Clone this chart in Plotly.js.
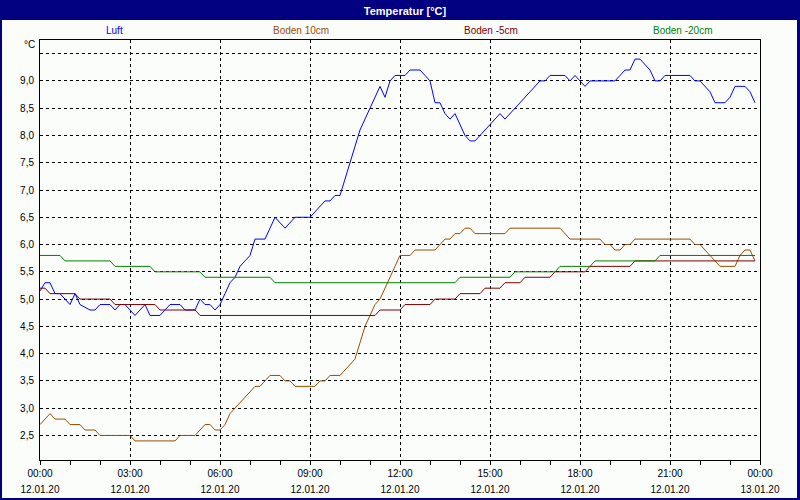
<!DOCTYPE html>
<html>
<head>
<meta charset="utf-8">
<script src="https://cdn.plot.ly/plotly-3.0.1.min.js"></script>
<style>
html,body{margin:0;padding:0;background:#fbfdfb;}
#chart{width:800px;height:500px;}
</style>
</head>
<body>
<div id="chart"></div>
<script>
// ---- Data ----
const chartTitle = 'Temperatur [°C]';
const seriesNames = ['Luft', 'Boden 10cm', 'Boden -5cm', 'Boden -20cm'];
const dateDay = '2020-01-12';

const luftTime = ['00:00','00:10','00:20','00:30','00:40','00:50','01:00','01:10','01:20','01:40','01:50','02:00','02:20','02:30','02:40','02:50','03:10','03:30','03:40','04:00','04:20','04:40','04:50','05:10','05:20','05:30','05:40','05:50','06:00','06:10','06:20','06:30','06:40','06:50','07:00','07:10','07:30','07:50','08:10','08:30','09:00','09:30','09:40','09:50','10:00','10:10','10:20','10:30','10:40','10:50','11:00','11:10','11:20','11:30','11:40','11:50','12:10','12:20','12:40','12:50','13:00','13:10','13:20','13:30','13:40','13:50','14:00','14:10','14:20','14:30','15:00','15:20','15:30','15:50','16:10','16:40','16:50','17:00','17:30','17:40','17:50','18:00','18:10','18:20','19:10','19:20','19:30','19:40','19:50','20:00','20:10','20:20','20:30','20:40','20:50','21:40','21:50','22:00','22:20','22:30','22:50','23:00','23:10','23:30','23:40','23:50'];
const luftVal  = [5.15,5.3,5.3,5.1,5.1,5.0,4.9,5.1,4.9,4.8,4.8,4.9,4.9,4.8,4.9,4.9,4.7,4.9,4.7,4.7,4.9,4.9,4.8,4.8,5.0,4.9,4.9,4.8,4.9,5.1,5.3,5.4,5.6,5.7,5.8,6.1,6.1,6.5,6.3,6.5,6.5,6.8,6.8,6.9,6.9,7.2,7.5,7.8,8.1,8.3,8.5,8.7,8.9,8.7,9.0,9.1,9.1,9.2,9.2,9.1,9.0,8.6,8.6,8.4,8.3,8.4,8.2,8.0,7.9,7.9,8.2,8.4,8.3,8.5,8.7,9.0,9.0,9.1,9.1,9.0,9.1,9.0,8.9,9.0,9.0,9.1,9.2,9.2,9.4,9.4,9.3,9.2,9.0,9.0,9.1,9.1,9.0,9.0,8.8,8.6,8.6,8.7,8.9,8.9,8.8,8.6];

const b10Time = ['00:00','00:20','00:30','00:50','01:00','01:20','01:30','01:50','02:00','03:00','03:10','04:30','04:40','05:10','05:30','05:40','05:50','06:00','06:10','06:20','06:30','06:40','06:50','07:10','07:20','07:40','08:00','08:10','08:20','08:30','09:10','09:20','09:30','09:40','10:00','10:30','10:40','10:50','11:00','11:10','11:20','11:40','12:00','12:20','12:30','13:10','13:20','13:30','13:40','13:50','14:00','14:10','14:20','14:30','15:30','15:40','17:20','17:40','18:40','18:50','19:00','19:10','19:20','19:30','19:40','19:50','21:40','21:50','22:00','22:10','22:40','23:10','23:20','23:30','23:40','23:50'];
const b10Val  = [2.7,2.9,2.8,2.8,2.7,2.7,2.6,2.6,2.5,2.5,2.4,2.4,2.5,2.5,2.7,2.7,2.6,2.6,2.7,2.9,3.0,3.1,3.2,3.4,3.4,3.6,3.6,3.5,3.5,3.4,3.4,3.5,3.5,3.6,3.6,3.9,4.2,4.5,4.7,4.9,5.0,5.4,5.8,5.8,5.9,5.9,6.0,6.1,6.1,6.2,6.2,6.3,6.3,6.2,6.2,6.3,6.3,6.1,6.1,6.0,6.0,5.9,5.9,6.0,6.0,6.1,6.1,6.0,6.0,5.9,5.6,5.6,5.8,5.9,5.9,5.7];

const b5Time = ['00:00','00:10','00:20','01:10','01:20','02:20','02:30','03:50','04:00','05:10','05:20','11:10','11:20','12:00','12:10','13:00','13:10','13:50','14:00','14:40','14:50','15:20','15:30','16:00','16:10','17:00','17:10','18:10','18:20','19:40','19:50','23:50'];
const b5Val  = [5.2,5.2,5.1,5.1,5.0,5.0,4.9,4.9,4.8,4.8,4.7,4.7,4.8,4.8,4.9,4.9,5.0,5.0,5.1,5.1,5.2,5.2,5.3,5.3,5.4,5.4,5.5,5.5,5.6,5.6,5.7,5.7];

const b20Time = ['00:00','00:40','00:50','02:20','02:30','03:40','03:50','05:20','05:30','07:40','07:50','13:50','14:00','15:40','15:50','17:10','17:20','18:20','18:30','20:30','20:40','23:50'];
const b20Val  = [5.8,5.8,5.7,5.7,5.6,5.6,5.5,5.5,5.4,5.4,5.3,5.3,5.4,5.4,5.5,5.5,5.6,5.6,5.7,5.7,5.8,5.8];

const xTickHours = [0,3,6,9,12,15,18,21,24];
const xTickTime  = ['00:00','03:00','06:00','09:00','12:00','15:00','18:00','21:00','00:00'];
const xTickDate  = ['12.01.20','12.01.20','12.01.20','12.01.20','12.01.20','12.01.20','12.01.20','12.01.20','13.01.20'];
const yTickVals  = [2.5,3.0,3.5,4.0,4.5,5.0,5.5,6.0,6.5,7.0,7.5,8.0,8.5,9.0,9.5];
const yTickText  = ['2,5','3,0','3,5','4,0','4,5','5,0','5,5','6,0','6,5','7,0','7,5','8,0','8,5','9,0',''];
const yUnit = '°C';

// ---- Styling / helpers ----
const colors = ['#0000ff', '#9a4c00', '#800000', '#008000'];
const legendX = [114, 301, 491, 682];
const FONT = 'Liberation Sans, Arial, sans-serif';
const W = 800, H = 500, L = 40, R = 40, T = 40, B = 40;
const pw = W - L - R, ph = H - T - B;
const px2x = p => (p - L) / pw;
const py2y = p => (H - B - p) / ph;
const toDate = t => dateDay + ' ' + t + ':00';
const hourToDate = h => {
  const d = new Date(Date.UTC(2020, 0, 12) + h * 3600000);
  return d.toISOString().slice(0, 19).replace('T', ' ');
};
const xRange = [hourToDate(0), hourToDate(24)];

const series = [[luftTime, luftVal], [b10Time, b10Val], [b5Time, b5Val], [b20Time, b20Val]];
const traces = series.map((s, i) => ({
  type: 'scatter', mode: 'lines', name: seriesNames[i],
  x: s[0].map(toDate), y: s[1],
  line: {color: colors[i], width: 1, shape: 'linear'},
  hoverinfo: 'skip', showlegend: false
}));
// carrier for the second (date) label row
traces.push({type: 'scatter', mode: 'lines', x: [xRange[0]], y: [null], xaxis: 'x2', yaxis: 'y', showlegend: false, hoverinfo: 'skip'});

const tickVals = xTickHours.map(hourToDate);
const minorVals = [];
for (let h = 0; h <= 24; h++) minorVals.push(hourToDate(h));

const annotations = seriesNames.map((n, i) => ({
  text: n, xref: 'paper', yref: 'paper', x: px2x(legendX[i]), y: py2y(30),
  xanchor: 'center', yanchor: 'middle', showarrow: false,
  font: {family: FONT, size: 10, color: colors[i]}
}));
annotations.push({
  text: yUnit, xref: 'paper', yref: 'paper', x: px2x(37), y: py2y(45),
  xanchor: 'right', yanchor: 'middle', showarrow: false,
  font: {family: FONT, size: 10, color: '#000000'}
});

const navy = '#000080';
const shapes = [
  {type: 'rect', xref: 'paper', yref: 'paper', x0: px2x(0), x1: px2x(800), y0: py2y(20), y1: py2y(0), fillcolor: navy, line: {width: 0}, layer: 'below'},
  {type: 'rect', xref: 'paper', yref: 'paper', x0: px2x(0), x1: px2x(2), y0: py2y(500), y1: py2y(0), fillcolor: navy, line: {width: 0}, layer: 'below'},
  {type: 'rect', xref: 'paper', yref: 'paper', x0: px2x(797), x1: px2x(800), y0: py2y(500), y1: py2y(0), fillcolor: navy, line: {width: 0}, layer: 'below'},
  {type: 'rect', xref: 'paper', yref: 'paper', x0: px2x(0), x1: px2x(800), y0: py2y(500), y1: py2y(498), fillcolor: navy, line: {width: 0}, layer: 'below'}
];

const layout = {
  width: W, height: H,
  margin: {l: L, r: R, t: T, b: B, pad: 0},
  paper_bgcolor: '#fbfdfb', plot_bgcolor: '#fbfdfb',
  font: {family: FONT, size: 10, color: '#000'},
  title: {text: '<b>' + chartTitle + '</b>', xref: 'container', yref: 'container', x: 405 / W, y: 1 - 11 / H,
          xanchor: 'center', yanchor: 'middle', font: {family: FONT, size: 11, color: '#ffffff'}},
  xaxis: {
    type: 'date', range: xRange, fixedrange: true,
    tickmode: 'array', tickvals: tickVals, ticktext: xTickTime,
    ticks: 'outside', ticklen: 4, tickcolor: '#000', tickwidth: 1,
    minor: {tickmode: 'array', tickvals: minorVals, ticks: 'outside', ticklen: 4, tickcolor: '#000', showgrid: false},
    showgrid: true, gridcolor: '#000', gridwidth: 1, griddash: '3px,3px',
    showline: true, linecolor: '#000', linewidth: 1, mirror: true, zeroline: false,
    tickfont: {family: FONT, size: 10, color: '#000'}
  },
  xaxis2: {
    type: 'date', range: xRange, fixedrange: true, overlaying: 'x', anchor: 'y', side: 'bottom',
    tickmode: 'array', tickvals: tickVals, ticktext: xTickDate,
    ticks: '', showgrid: false, showline: false, zeroline: false,
    ticklabelstandoff: 22,
    tickfont: {family: FONT, size: 10, color: '#000'}
  },
  yaxis: {
    range: [2.05, 9.75], fixedrange: true,
    tickmode: 'array', tickvals: yTickVals, ticktext: yTickText,
    ticks: 'outside', ticklen: 3, tickcolor: 'rgba(0,0,0,0)',
    showgrid: true, gridcolor: '#000', gridwidth: 1, griddash: '3px,3px',
    showline: true, linecolor: '#000', linewidth: 1, mirror: true, zeroline: false,
    tickfont: {family: FONT, size: 10, color: '#000'}
  },
  annotations: annotations,
  shapes: shapes,
  showlegend: false
};

Plotly.newPlot('chart', traces, layout, {displayModeBar: false, staticPlot: true});
</script>
</body>
</html>
